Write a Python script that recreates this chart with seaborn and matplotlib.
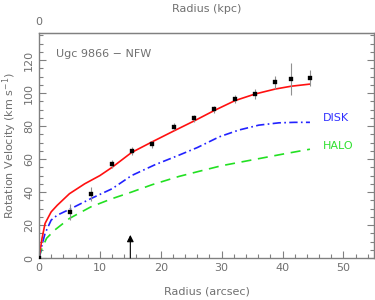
import matplotlib
matplotlib.use("Agg")
import matplotlib.pyplot as plt
import seaborn as sns
import pandas as pd
from matplotlib.ticker import MultipleLocator

# observed rotation curve (arcsec, km/s)
r_obs = [0, 5.1, 8.5, 12.0, 15.2, 18.6, 22.1, 25.4, 28.8, 32.2, 35.5, 38.8, 41.4, 44.5]
v_obs = [0, 28, 38.8, 56.8, 65, 69, 79.6, 84.7, 90.1, 96.5, 99.6, 106.7, 108.5, 109.3]
v_err = [0, 5, 4, 2.5, 2.5, 2, 2, 2, 2, 2.5, 3, 4, 9.5, 4.7]

# model components
r_tot = [0, 0.5, 1, 2, 3, 5, 7.5, 10, 12, 15.2, 18.6, 22.1, 25.4, 28.8, 32.2, 35.5, 38.8, 41.4, 44.5]
v_tot = [0, 12, 21, 28, 32, 39, 45, 50, 55, 64, 70.5, 77, 83, 89.5, 95.5, 99.5, 102.5, 104.2, 105.5]

r_disk = [0, 0.5, 1, 2, 3, 5, 8.5, 12, 15.2, 19, 23, 26, 29.6, 32.8, 36.1, 39.4, 42, 44.5]
v_disk = [0, 8, 15, 23, 26, 29.5, 36, 42, 50, 56.5, 62.4, 67, 73.5, 77.6, 80.6, 82, 82.3, 82.3]

r_halo = [0, 0.5, 1.25, 2.6, 5, 8.5, 12, 15.2, 18.6, 23, 26.2, 30, 35, 40, 44.5]
v_halo = [0, 6, 12, 17, 24, 31, 36, 40, 44.5, 49.5, 52.5, 56, 59.5, 63, 66]

grey = "#808080"
txt = "#707070"

sns.set_style("ticks")
plt.rcParams["font.family"] = ["DejaVu Sans"]
plt.rcParams["font.size"] = 8

fig = plt.figure(figsize=(3.75, 3.0), dpi=100)
ax = fig.add_axes([0.104, 0.14, 0.893, 0.75])

sns.lineplot(x=r_halo, y=v_halo, ax=ax, color="#22e022", lw=1.2, dashes=False,
             linestyle=(0, (6, 4)))
sns.lineplot(x=r_disk, y=v_disk, ax=ax, color="#2222ff", lw=1.2,
             linestyle=(0, (5, 2, 1, 2)))
sns.lineplot(x=r_tot, y=v_tot, ax=ax, color="#ff1010", lw=1.2)

ax.errorbar(r_obs, v_obs, yerr=v_err, fmt="none", ecolor="#909090", elinewidth=0.8, zorder=4)
sns.scatterplot(x=r_obs, y=v_obs, ax=ax, color="black", marker="s", s=9,
                edgecolor="black", zorder=5)

ax.set_xlim(0, 55)
ax.set_ylim(0, 136.5)
ax.xaxis.set_major_locator(MultipleLocator(10))
ax.xaxis.set_minor_locator(MultipleLocator(2))
ax.yaxis.set_major_locator(MultipleLocator(20))
ax.yaxis.set_minor_locator(MultipleLocator(5))
ax.tick_params(which="both", direction="in", colors=grey, labelcolor=txt,
               bottom=True, left=True, right=True, top=False, labelsize=8)
ax.tick_params(which="major", length=5, width=0.8)
ax.tick_params(which="minor", length=3, width=0.8)
ax.tick_params(axis="y", labelrotation=90)
for lab in ax.get_yticklabels():
    lab.set_va("center")
for s in ax.spines.values():
    s.set_color(grey)
    s.set_linewidth(1.0)

ax.set_xlabel("Radius (arcsec)", color=txt, labelpad=10)
ax.set_ylabel("Rotation Velocity (km s$^{-1}$)", color=txt, labelpad=4)

top = ax.secondary_xaxis("top")
top.set_xticks([0])
top.tick_params(length=0, colors=txt, labelsize=8, pad=4)
top.set_xlabel("Radius (kpc)", color=txt, labelpad=4)
top.spines["top"].set_color(grey)

ax.text(2.8, 124, "Ugc 9866 \u2212 NFW", color=txt, fontsize=8, va="center")
ax.text(46.7, 84.8, "DISK", color="#3030ff", fontsize=8, va="center")
ax.text(46.7, 67.9, "HALO", color="#30e030", fontsize=8, va="center")

ax.annotate("", xy=(15, 14), xytext=(15, 0),
            arrowprops=dict(arrowstyle="-|>", color="black", lw=0.8,
                            mutation_scale=10, shrinkA=0, shrinkB=0))

fig.savefig("out.png", dpi=100)
